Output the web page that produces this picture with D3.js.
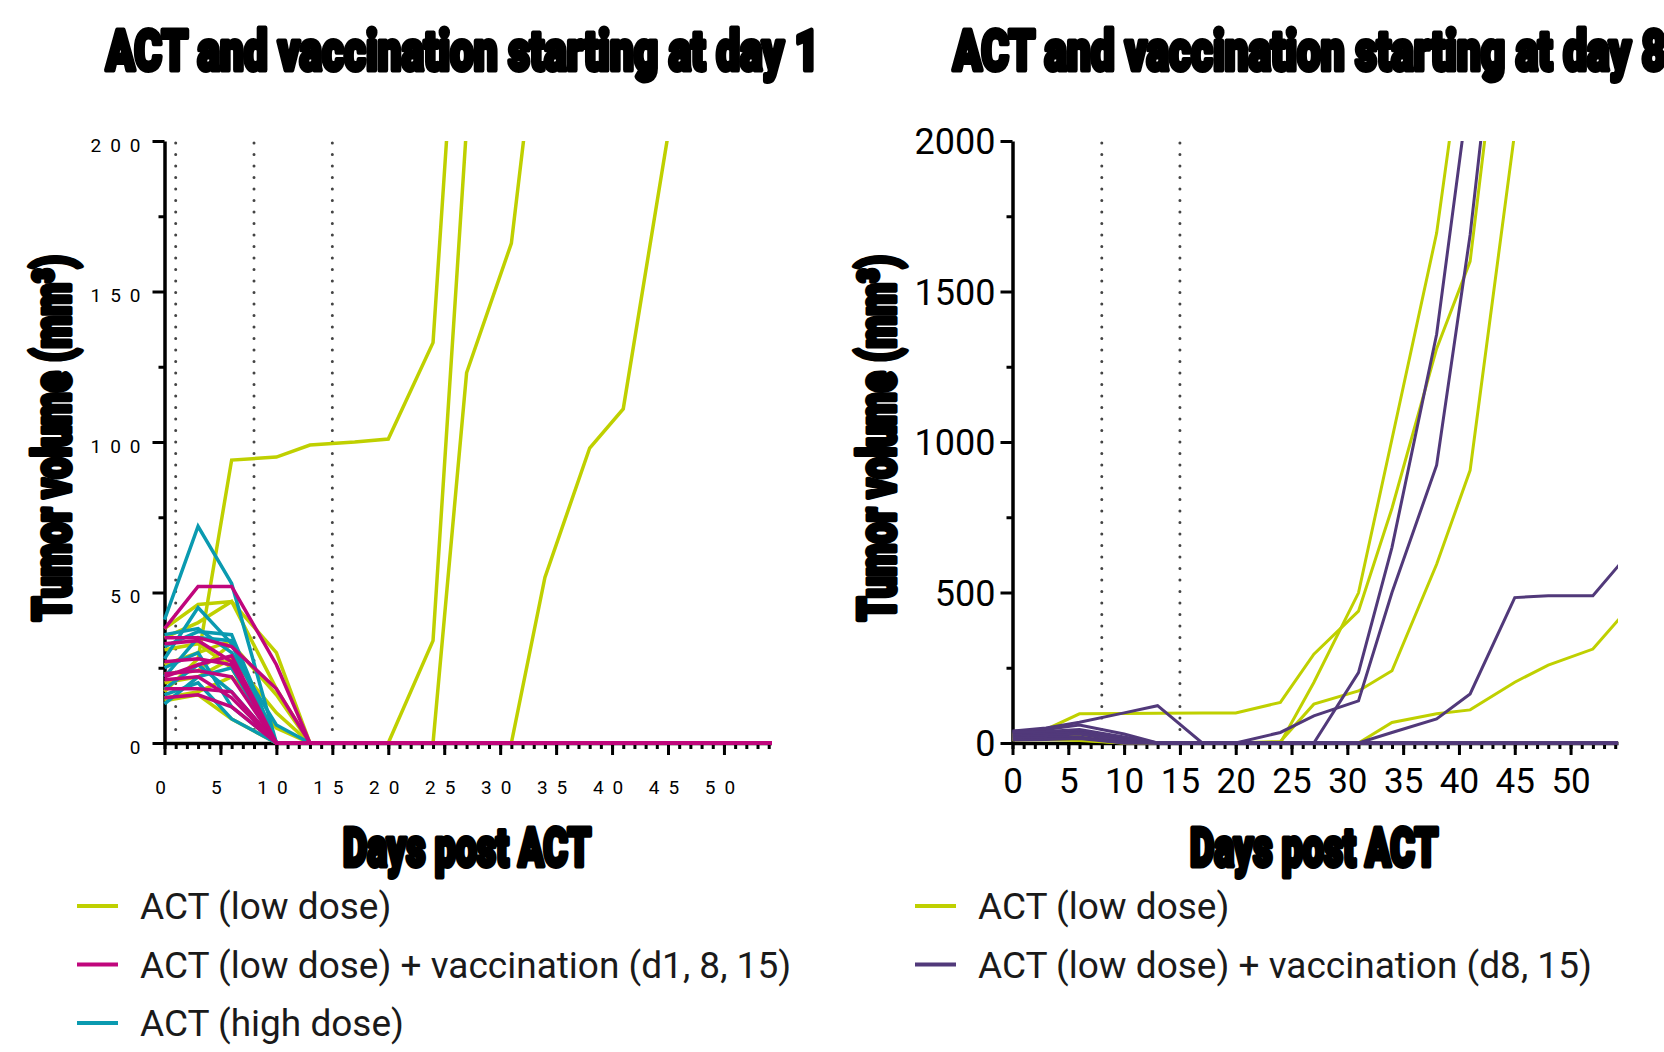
<!DOCTYPE html>
<html><head><meta charset="utf-8">
<script src="https://cdn.jsdelivr.net/npm/d3@7"></script>
<style>
body{margin:0;background:#fff;}
svg{display:block;}
</style></head><body>
<svg id="chart" width="1664" height="1052"></svg>
<script>
// ---------- DATA ----------
const days = [0,3,6,10,13,17,20,24,27,31,34,38,41,45,48,52,55];

const leftTitle = "ACT and vaccination starting at day 1";
const rightTitle = "ACT and vaccination starting at day 8";
const yLabel = "Tumor volume (mm³)";
const xLabel = "Days post ACT";

const leftYTicks = [0,50,100,150,200];
const rightYTicks = [0,500,1000,1500,2000];
const xTicks = [0,5,10,15,20,25,30,35,40,45,50];
const leftDotted = [1,8,15];
const rightDotted = [8,15];

// Day 1 panel: ACT (low dose)
const d1LowDose = [
  [17,28,94,95,99,100,101,133,300,null,null,null,null,null,null,null,null],
  [38,46,47,30,0,0,0,34,205,420,null,null,null,null,null,null,null],
  [35,40,47,18,0,0,0,0,123,166,260,null,null,null,null,null,null],
  [23,24,33,16,0,0,0,0,0,0,55,98,111,202,310,null,null],
  [20,22,28,10,0,0,0,0,0,0,0,0,0,0,0,0,0],
  [15,17,22,5,0,0,0,0,0,0,0,0,0,0,0,0,0],
  [14,16,8,0,0,0,0,0,0,0,0,0,0,0,0,0,0],
  [26,30,34,0,0,0,0,0,0,0,0,0,0,0,0,0,0],
  [31,33,25,0,0,0,0,0,0,0,0,0,0,0,0,0,0]
];
// Day 1 panel: ACT (high dose)
const d1HighDose = [
  [41,72,53,0,0,0,0,0,0,0,0,0,0,0,0,0,0],
  [28,45,33,0,0,0,0,0,0,0,0,0,0,0,0,0,0],
  [32,37,36,0,0,0,0,0,0,0,0,0,0,0,0,0,0],
  [22,35,34,0,0,0,0,0,0,0,0,0,0,0,0,0,0],
  [13,22,25,0,0,0,0,0,0,0,0,0,0,0,0,0,0],
  [18,26,17,0,0,0,0,0,0,0,0,0,0,0,0,0,0],
  [25,30,12,0,0,0,0,0,0,0,0,0,0,0,0,0,0],
  [16,20,8,0,0,0,0,0,0,0,0,0,0,0,0,0,0],
  [36,38,30,6,0,0,0,0,0,0,0,0,0,0,0,0,0]
];
// Day 1 panel: ACT (low dose) + vaccination (d1, 8, 15)
const d1Vacc = [
  [38,52,52,26,0,0,0,0,0,0,0,0,0,0,0,0,0],
  [35,35,32,18,0,0,0,0,0,0,0,0,0,0,0,0,0],
  [33,34,27,0,0,0,0,0,0,0,0,0,0,0,0,0,0],
  [27,28,26,0,0,0,0,0,0,0,0,0,0,0,0,0,0],
  [23,24,22,0,0,0,0,0,0,0,0,0,0,0,0,0,0],
  [22,26,29,0,0,0,0,0,0,0,0,0,0,0,0,0,0],
  [18,18,17,0,0,0,0,0,0,0,0,0,0,0,0,0,0],
  [15,16,12,0,0,0,0,0,0,0,0,0,0,0,0,0,0],
  [21,22,15,0,0,0,0,0,0,0,0,0,0,0,0,0,0]
];
// Day 8 panel: ACT (low dose)
const d8LowDose = [
  [30,45,97,98,99,100,100,135,295,438,780,1310,1600,2830,null,null,null],
  [25,30,40,12,0,0,0,0,201,499,1010,1694,2500,null,null,null,null],
  [15,20,25,5,0,0,0,5,129,173,240,594,906,2030,null,null,null],
  [12,15,10,0,0,0,0,0,0,0,68,97,110,202,259,312,440],
  [10,12,8,0,0,0,0,0,0,0,0,0,0,0,0,0,0],
  [20,22,15,0,0,0,0,0,0,0,0,0,0,0,0,0,0]
];
// Day 8 panel: ACT (low dose) + vaccination (d8, 15)
const d8Vacc = [
  [40,50,69,100,124,0,0,0,0,0,0,0,0,0,0,0,0],
  [38,45,60,30,0,0,0,0,0,0,0,0,0,0,0,0,0],
  [30,35,40,15,0,0,0,35,90,140,500,923,1688,3000,null,null,null],
  [35,38,45,20,0,0,0,0,0,234,650,1358,2200,null,null,null,null],
  [25,30,35,10,0,0,0,0,0,0,35,80,163,483,489,489,620],
  [20,25,30,5,0,0,0,0,0,0,0,0,0,0,0,0,0],
  [15,18,20,0,0,0,0,0,0,0,0,0,0,0,0,0,0],
  [10,12,15,0,0,0,0,0,0,0,0,0,0,0,0,0,0]
];

const legendLeft = ["ACT (low dose)", "ACT (low dose) + vaccination (d1, 8, 15)", "ACT (high dose)"];
const legendRight = ["ACT (low dose)", "ACT (low dose) + vaccination (d8, 15)"];

const GREEN = "#bfd000", MAGENTA = "#c0067c", TEAL = "#0a9ab0", PURPLE = "#51397a";

// ---------- DRAW ----------
const svg = d3.select('#chart');
const FONT = "Roboto, 'Noto Sans', sans-serif";
const yTop = 141, yBot = 743;

function heavyText(g, txt, x, y, size, len, rotate) {
  const t = g.append('text')
    .attr('x', x).attr('y', y)
    .attr('text-anchor', 'middle')
    .attr('font-family', FONT)
    .attr('font-weight', 900)
    .attr('font-size', size)
    .attr('fill', '#000')
    .attr('stroke', '#000')
    .attr('stroke-width', 5)
    .attr('stroke-linejoin', 'round')
    .attr('textLength', len)
    .attr('lengthAdjust', 'spacingAndGlyphs')
    .text(txt);
  if (rotate) t.attr('transform', `rotate(-90,${x},${y})`);
  return t;
}

function panel(cfg, idx) {
  const x = d3.scaleLinear().domain([0, 54.25]).range([cfg.x0, cfg.x1]);
  const y = d3.scaleLinear().domain([0, cfg.yMax]).range([yBot, yTop]);
  const g = svg.append('g');

  // minor x ticks
  g.append('g').attr('transform', `translate(0,${yBot})`)
    .call(d3.axisBottom(x).tickValues(d3.range(0, 55, 1)).tickSize(6).tickSizeOuter(0).tickFormat(''))
    .call(a => a.select('.domain').remove())
    .call(a => a.selectAll('line').attr('stroke', '#000').attr('stroke-width', 3));
  // major x ticks + labels
  const xa = g.append('g').attr('transform', `translate(0,${yBot})`)
    .call(d3.axisBottom(x).tickValues(xTicks).tickSize(12).tickSizeOuter(0).tickFormat(d3.format('d')));
  xa.select('.domain').attr('stroke', '#000').attr('stroke-width', 3.5);
  xa.selectAll('line').attr('stroke', '#000').attr('stroke-width', 3);
  xa.selectAll('text').attr('fill', '#000').attr('font-family', FONT)
    .attr('font-size', cfg.xFont).attr('dy', null).attr('y', cfg.xLabelY)
    .style('letter-spacing', cfg.ls + 'px');

  // minor y ticks
  g.append('g').attr('transform', `translate(${cfg.x0},0)`)
    .call(d3.axisLeft(y).tickValues(cfg.yMinor).tickSize(6).tickSizeOuter(0).tickFormat(''))
    .call(a => a.select('.domain').remove())
    .call(a => a.selectAll('line').attr('stroke', '#000').attr('stroke-width', 3));
  const ya = g.append('g').attr('transform', `translate(${cfg.x0},0)`)
    .call(d3.axisLeft(y).tickValues(cfg.yTicks).tickSize(12).tickSizeOuter(0).tickPadding(cfg.yPad).tickFormat(d3.format('d')));
  ya.select('.domain').attr('stroke', '#000').attr('stroke-width', 3.5);
  ya.selectAll('line').attr('stroke', '#000').attr('stroke-width', 3);
  ya.selectAll('text').attr('fill', '#000').attr('font-family', FONT)
    .attr('font-size', cfg.yFont).attr('dy', cfg.yDy)
    .style('letter-spacing', cfg.ls + 'px');

  // dotted lines
  g.selectAll('line.dot').data(cfg.dotted).enter().append('line')
    .attr('x1', d => x(d)).attr('x2', d => x(d))
    .attr('y1', yTop + 2).attr('y2', yBot - 2)
    .attr('stroke', '#444').attr('stroke-width', 3)
    .attr('stroke-linecap', 'round').attr('stroke-dasharray', '0 11.5');

  // clip
  const cid = 'clip' + idx;
  svg.append('clipPath').attr('id', cid).append('rect')
    .attr('x', cfg.x0 - 2).attr('y', yTop).attr('width', cfg.x1 - cfg.x0 + 2).attr('height', yBot - yTop + 6);

  const line = d3.line().defined(d => d[1] !== null).x(d => x(d[0])).y(d => y(d[1]));
  const lg = g.append('g').attr('clip-path', `url(#${cid})`);
  cfg.series.forEach(s => {
    s.data.forEach(arr => {
      lg.append('path').datum(days.map((d, i) => [d, arr[i]]))
        .attr('d', line).attr('fill', 'none').attr('stroke', s.color)
        .attr('stroke-width', cfg.lw);
    });
  });

  // titles / labels
  heavyText(svg, cfg.title, cfg.titleX, 70, 56, 713).attr('text-anchor', cfg.titleAnchor);
  heavyText(svg, yLabel, cfg.yLabX, 438, 52, 366, true);
  heavyText(svg, xLabel, cfg.xLabX, 866, 54, 248);

  // legend
  cfg.legend.forEach((l, i) => {
    const yy = 906 + i * 58.5;
    svg.append('line').attr('x1', cfg.legX).attr('x2', cfg.legX + 41)
      .attr('y1', yy).attr('y2', yy).attr('stroke', l.color).attr('stroke-width', 4);
    svg.append('text').attr('x', cfg.legX + 63).attr('y', yy + 13)
      .attr('font-family', FONT).attr('font-size', 37).attr('fill', '#1a1a1a')
      .text(l.text);
  });
}

panel({
  x0: 164.5, x1: 771.5, yMax: 200, yTicks: leftYTicks, yMinor: [25,75,125,175],
  xFont: 19, yFont: 19, ls: 9, xLabelY: 51, yPad: 3, yDy: '0.55em',
  dotted: leftDotted, lw: 3.5,
  series: [{color: GREEN, data: d1LowDose}, {color: TEAL, data: d1HighDose}, {color: MAGENTA, data: d1Vacc}],
  title: leftTitle, titleX: 462.5, titleAnchor: 'middle', yLabX: 70, xLabX: 467,
  legX: 77,
  legend: [{text: legendLeft[0], color: GREEN}, {text: legendLeft[1], color: MAGENTA}, {text: legendLeft[2], color: TEAL}]
}, 0);

panel({
  x0: 1012.5, x1: 1618, yMax: 2000, yTicks: rightYTicks, yMinor: [250,750,1250,1750],
  xFont: 35, yFont: 36, ls: 0, xLabelY: 50, yPad: 5, yDy: '0.35em',
  dotted: rightDotted, lw: 3,
  series: [{color: GREEN, data: d8LowDose}, {color: PURPLE, data: d8Vacc}],
  title: rightTitle, titleX: 953, titleAnchor: 'start', yLabX: 895, xLabX: 1314,
  legX: 915,
  legend: [{text: legendRight[0], color: GREEN}, {text: legendRight[1], color: PURPLE}]
}, 1);
</script>
</body></html>
